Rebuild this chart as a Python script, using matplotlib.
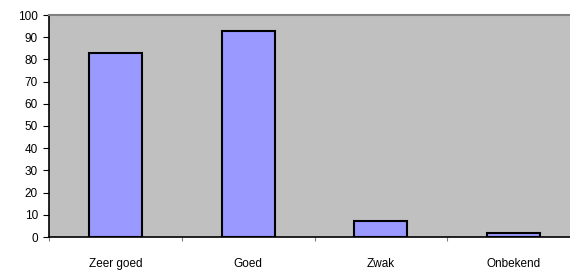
import matplotlib
matplotlib.use("Agg")
import matplotlib.pyplot as plt
import numpy as np

# data
categories = ['Zeer goed', 'Goed', 'Zwak', 'Onbekend']
values = [83, 93, 7, 2]
yticks = list(range(0, 101, 10))

plt.rcParams['font.family'] = ['Liberation Sans', 'DejaVu Sans']

fig = plt.figure(figsize=(5.70, 2.71), dpi=100)
W, H = 570, 271
# plot area in pixels (right edge runs past the image, as in the reference)
left, right, top, bottom = 49, 580, 15, 237
ax = fig.add_axes([left / W, 1 - bottom / H, (right - left) / W, (bottom - top) / H])
ax.set_facecolor('#C0C0C0')

x = np.arange(len(categories))
ax.bar(x, values, width=0.4, color='#9999FF', edgecolor='black', linewidth=1.5, zorder=3)

ax.set_xlim(-0.5, len(categories) - 0.5)
ax.set_ylim(0, 100)
ax.set_yticks(yticks)
ax.tick_params(axis='y', labelsize=8.5, length=4, width=0.8, pad=4, colors='black')

# category labels centred, tick marks at the slot boundaries
ax.set_xticks(x)
ax.set_xticklabels(categories)
ax.tick_params(axis='x', which='major', length=0, labelsize=8.5, pad=15)
ax.set_xticks(np.arange(-0.5, len(categories), 1), minor=True)
ax.tick_params(axis='x', which='minor', length=3, width=0.8, color='#808080')

for s in ['left', 'bottom']:
    ax.spines[s].set_color('black')
    ax.spines[s].set_linewidth(1.2)
ax.spines['top'].set_color('#808080')
ax.spines['top'].set_linewidth(1.5)
ax.spines['right'].set_visible(False)

fig.savefig('out.png', dpi=100)
